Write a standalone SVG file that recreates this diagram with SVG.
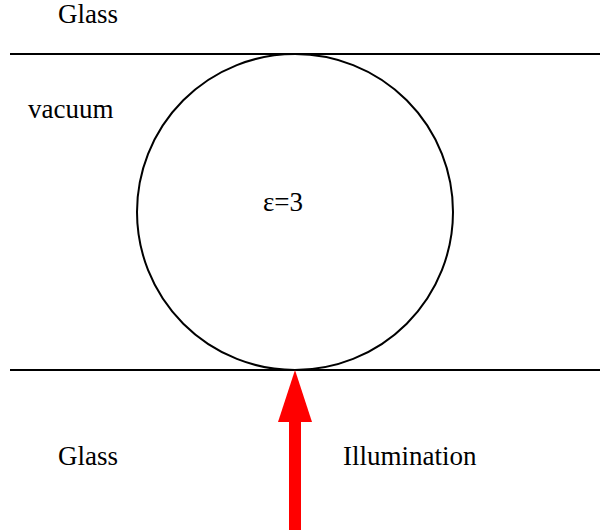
<svg xmlns="http://www.w3.org/2000/svg" width="600" height="530" viewBox="0 0 600 530">
<style>
text{font-family:"Liberation Serif","Times New Roman",serif;font-size:27px;fill:#000}
.ln{stroke:#000;stroke-width:2;fill:none}
</style>
<rect width="600" height="530" fill="#fff"/>
<g id="interfaces">
<line class="ln" x1="10" y1="54" x2="600" y2="54"/>
<line class="ln" x1="10" y1="370" x2="600" y2="370"/>
</g>
<g id="sphere">
<circle class="ln" cx="295" cy="212" r="158"/>
<text x="263" y="211">ε=3</text>
</g>
<g id="labels">
<text x="58" y="23">Glass</text>
<text x="28" y="118">vacuum</text>
<text x="58" y="465">Glass</text>
</g>
<g id="connectors">
<rect x="289" y="420" width="12" height="110" fill="#ff0000"/>
<polygon points="295,370 278,422 312,422" fill="#ff0000"/>
</g>
<g id="illumination">
<text x="343" y="465">Illumination</text>
</g>
</svg>
